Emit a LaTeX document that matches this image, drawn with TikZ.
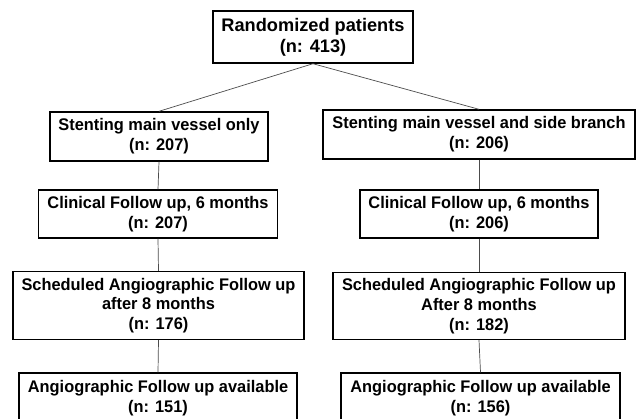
\documentclass[tikz,border=0pt]{standalone}
\usepackage{fontspec}
\setmainfont{Liberation Sans}
\newfontfamily\narrowbold[FakeStretch=0.975,BoldFont={* Bold}]{Liberation Sans}
\begin{document}
\begin{tikzpicture}[x=1pt,y=-1pt,
  box/.style={draw=black,line width=1.4pt,fill=white,inner sep=0pt,align=center,
    font=\narrowbold\bfseries\fontsize{16.8}{19.8}\selectfont},
  topbox/.style={box,font=\bfseries\fontsize{18.2}{21}\selectfont},
  link/.style={draw=black!70,line width=0.7pt}]
\clip (0,0) rectangle (636,418);
\fill[white] (0,0) rectangle (636,418);
\node[topbox,minimum width=200pt,minimum height=52pt] (top) at (313,37) {Randomized patients\\(n: 413)};
\node[box,minimum width=218pt,minimum height=49pt] (l1) at (159,136.5) {Stenting main vessel only\\(n: 207)};
\node[box,minimum width=312pt,minimum height=49pt] (r1) at (479,134.5) {Stenting main vessel and side branch\\(n: 206)};
\node[box,minimum width=239pt,minimum height=48pt] (l2) at (158,214) {Clinical Follow up, 6 months\\(n: 207)};
\node[box,minimum width=238pt,minimum height=48pt] (r2) at (479,214) {Clinical Follow up, 6 months\\(n: 206)};
\node[box,minimum width=291pt,minimum height=68pt] (l3) at (158.5,305.5) {Scheduled Angiographic Follow up\\after 8 months\\(n: 176)};
\node[box,minimum width=292pt,minimum height=67pt] (r3) at (479,306) {Scheduled Angiographic Follow up\\After 8 months\\(n: 182)};
\node[box,minimum width=278pt,minimum height=50pt] (l4) at (158,398) {Angiographic Follow up available\\(n: 151)};
\node[box,minimum width=279pt,minimum height=50pt] (r4) at (480.5,398) {Angiographic Follow up available\\(n: 156)};
\draw[link] (top.south) -- (l1.north);
\draw[link] (top.south) -- (r1.north);
\draw[link] (l1.south) -- (l2.north);
\draw[link] (l2.south) -- (l3.north);
\draw[link] (l3.south) -- (l4.north);
\draw[link] (r1.south) -- (r2.north);
\draw[link] (r2.south) -- (r3.north);
\draw[link] (r3.south) -- (r4.north);
\end{tikzpicture}
\end{document}
